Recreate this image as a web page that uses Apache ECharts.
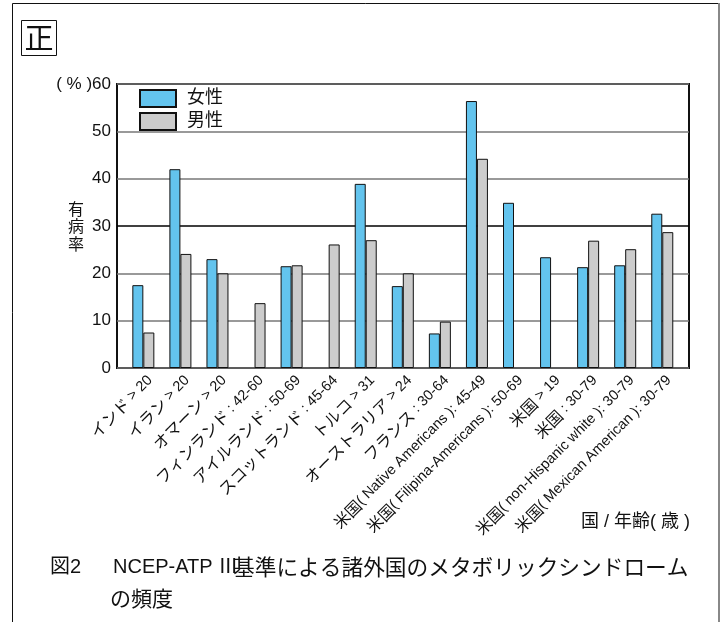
<!DOCTYPE html>
<html>
<head>
<meta charset="utf-8">
<script src="https://cdn.jsdelivr.net/npm/echarts@6/dist/echarts.min.js"></script>
<style>
html,body{margin:0;padding:0;background:#fff;}
#chart{width:722px;height:622px;}
</style>
</head>
<body>
<div id="chart"></div>
<script>
const categories = [
  'インド > 20',
  'イラン > 20',
  'オマーン > 20',
  'フィンランド : 42-60',
  'アイルランド : 50-69',
  'スコットランド : 45-64',
  'トルコ > 31',
  'オーストラリア > 24',
  'フランス : 30-64',
  '米国( Native Americans ): 45-49',
  '米国( Filipina-Americans ): 50-69',
  '米国 > 19',
  '米国 : 30-79',
  '米国( non-Hispanic white ): 30-79',
  '米国( Mexican American ): 30-79'
];
const female = [17.5, 42.0, 23.0, null, 21.5, null, 38.9, 17.3, 7.3, 56.4, 34.9, 23.4, 21.3, 21.7, 32.6];
const male   = [7.5, 24.1, 20.0, 13.7, 21.7, 26.1, 27.0, 20.0, 9.8, 44.2, null, null, 26.9, 25.1, 28.7];
const seriesNames = ['女性', '男性'];
const yMin = 0, yMax = 60, yStep = 10;
const yTopLabel = '( % )60';
const yTitle = '有病率';
const xTitle = '国 / 年齢( 歳 )';
const caption1a = '図2';
const caption1b = 'NCEP-ATP Ⅲ';
const caption1c = '基準による諸外国のメタボリックシンドローム';
const caption2 = 'の頻度';
const badge = '正';

const FONT = '"Liberation Sans", "Noto Sans CJK JP", sans-serif';
const JFONT = '"Noto Sans CJK JP", sans-serif';
const chart = echarts.init(document.getElementById('chart'), null, {renderer: 'canvas'});

const plotTop = 84, plotBottom = 622 - 368;
const hiddenY = (gi) => ({type: 'value', gridIndex: gi, min: yMin, max: yMax, interval: yStep, show: false});

function richLabel(s) {
  return s.split(/([\u3000-\u9fff\uff00-\uffef]+)/).filter(p => p.length)
    .map(p => (/[\u3000-\u9fff\uff00-\uffef]/.test(p) ? '{j|' + p + '}' : '{l|' + p + '}')).join('');
}

chart.setOption({
  backgroundColor: '#fff',
  animation: false,
  textStyle: {fontFamily: FONT},
  grid: [
    {left: 117, right: 33, top: plotTop, bottom: plotBottom, show: true, borderColor: '#111', borderWidth: 2, backgroundColor: 'transparent', z: 0},
    {left: 124.8, right: 41.2, top: plotTop, bottom: plotBottom},
    {left: 131.5, right: 34.5, top: plotTop, bottom: plotBottom}
  ],
  xAxis: [
    {type: 'category', gridIndex: 0, data: categories, show: false},
    {type: 'category', gridIndex: 1, data: categories, show: false},
    {type: 'category', gridIndex: 2, data: categories,
      axisLine: {show: false}, axisTick: {show: false},
      axisLabel: {rotate: 45, interval: 0, margin: 10, color: '#111', fontFamily: FONT,
        formatter: richLabel,
        rich: {
          j: {fontSize: 16, fontFamily: JFONT, color: '#111'},
          l: {fontSize: 14.5, fontFamily: FONT, color: '#111'}
        }}}
  ],
  yAxis: [
    {type: 'value', gridIndex: 0, min: yMin, max: yMax, interval: yStep,
      axisLine: {show: false}, axisTick: {show: false},
      axisLabel: {color: '#111', fontSize: 17, margin: 6, fontFamily: FONT,
        formatter: v => (v === yMax ? yTopLabel : String(v))},
      splitLine: {show: true, lineStyle: {color: ['#777', '#777', '#777', '#000', '#777', '#777', '#777'], width: 1.5}}},
    hiddenY(1),
    hiddenY(2)
  ],
  legend: {
    orient: 'vertical', left: 139, top: 89, padding: 0, itemWidth: 36, itemHeight: 17, itemGap: 4,
    icon: 'rect',
    textStyle: {fontSize: 18, color: '#111', fontFamily: FONT, padding: [0, 0, 0, 6]},
    data: seriesNames
  },
  series: [
    {name: seriesNames[0], type: 'bar', xAxisIndex: 1, yAxisIndex: 1, data: female, barWidth: 11, barGap: '0%',
      itemStyle: {color: '#63C4EE', borderColor: '#111', borderWidth: 1}, z: 3},
    {name: seriesNames[1], type: 'bar', xAxisIndex: 1, yAxisIndex: 1, data: male, barWidth: 11, barGap: '0%',
      itemStyle: {color: '#CCCCCC', borderColor: '#111', borderWidth: 1}, z: 3}
  ],
  graphic: [
    {type: 'line', shape: {x1: 12.5, y1: 3.5, x2: 719, y2: 3.5}, style: {stroke: '#111', lineWidth: 1}},
    {type: 'line', shape: {x1: 12.5, y1: 3.5, x2: 12.5, y2: 622}, style: {stroke: '#111', lineWidth: 1}},
    {type: 'line', shape: {x1: 719, y1: 3, x2: 719, y2: 622}, style: {stroke: '#888', lineWidth: 2}},
    {type: 'rect', shape: {x: 21.5, y: 20.5, width: 35, height: 35}, style: {fill: '#fff', stroke: '#111', lineWidth: 1}},
    {type: 'text', x: 39, y: 38, style: {text: badge, font: '29px "Noto Sans CJK JP"', fill: '#111', align: 'center', verticalAlign: 'middle'}},
    {type: 'text', x: 76, y: 226, style: {text: yTitle.split('').join('\n'), font: '16px "Noto Sans CJK JP"', lineHeight: 17.5, fill: '#111', align: 'center', verticalAlign: 'middle'}},
    {type: 'text', x: 581, y: 522, style: {text: xTitle, font: '18px ' + FONT, fill: '#111', align: 'left', verticalAlign: 'middle'}},
    {type: 'text', x: 50, y: 567, style: {text: caption1a, font: '20px ' + FONT, fill: '#111', align: 'left', verticalAlign: 'middle'}},
    {type: 'text', x: 113, y: 567, style: {text: caption1b, font: '20px ' + FONT, fill: '#111', align: 'left', verticalAlign: 'middle'}},
    {type: 'text', x: 233, y: 567, style: {text: caption1c, font: '21.7px ' + JFONT, fill: '#111', align: 'left', verticalAlign: 'middle'}},
    {type: 'text', x: 110, y: 598, style: {text: caption2, font: '21px ' + JFONT, fill: '#111', align: 'left', verticalAlign: 'middle'}}
  ]
});
</script>
</body>
</html>
